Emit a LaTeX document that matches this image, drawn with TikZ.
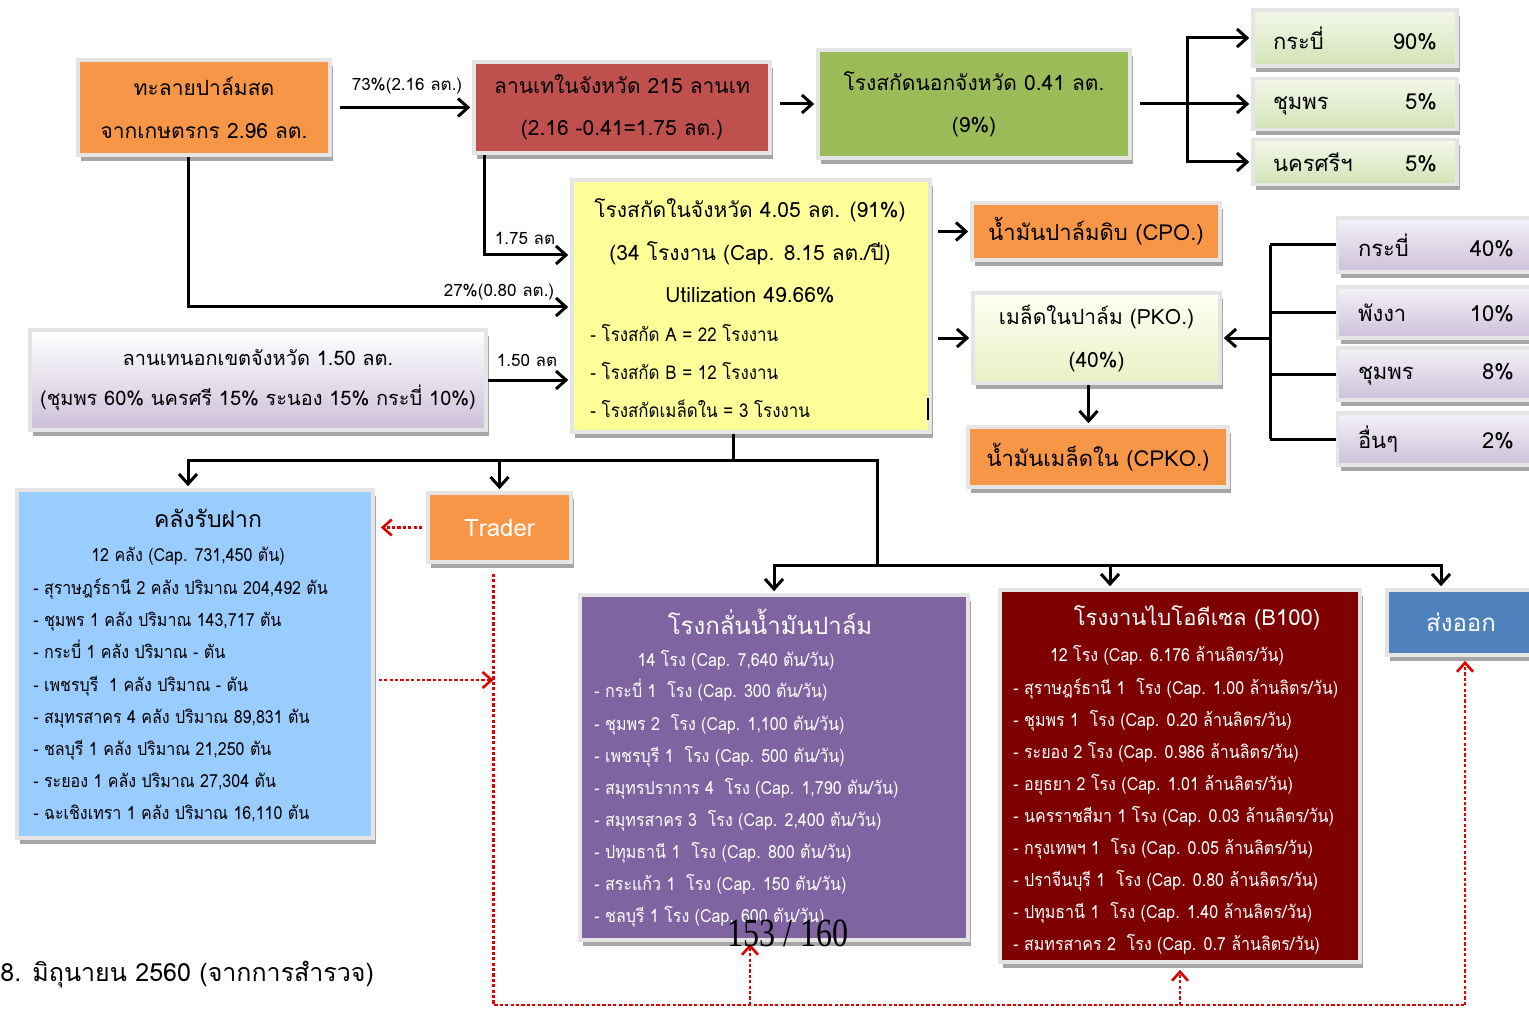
\documentclass[tikz,border=0pt]{standalone}
\usepackage{fontspec}
\usepackage{graphicx}
\newfontfamily\thai[Script=Thai]{Loma}
\newfontfamily\thaic[Script=Thai,FakeStretch=0.89]{Loma}
\newfontfamily\serifnum{Liberation Serif}
\newcommand\tfs[2]{\thai\fontsize{#1}{#2}\selectfont}
\newcommand\tcs[2]{\thaic\fontsize{#1}{#2}\selectfont}
\usetikzlibrary{arrows.meta,shadows}
\definecolor{cOrange}{HTML}{F79646}
\definecolor{cRed}{HTML}{C0504D}
\definecolor{cGreen}{HTML}{9BBB59}
\definecolor{cDtop}{HTML}{F4F8EA}
\definecolor{cDbot}{HTML}{D3E2B6}
\definecolor{cYellow}{HTML}{FFFF99}
\definecolor{cLav}{HTML}{CCC0DA}
\definecolor{cLavTop}{HTML}{F4F2F8}
\definecolor{cHtop}{HTML}{FFFFF4}
\definecolor{cHbot}{HTML}{E8F0C4}
\definecolor{cBlue}{HTML}{99CCFF}
\definecolor{cPurple}{HTML}{8064A2}
\definecolor{cDRed}{HTML}{7F0000}
\definecolor{cSteel}{HTML}{4F81BD}
\definecolor{cRedLine}{HTML}{E00000}
\begin{document}
\begin{tikzpicture}[x=0.5pt,y=-0.5pt,font=\thai,
  bx/.style={draw=black!10, line width=1.8pt, inner sep=0pt, align=center,
    drop shadow={shadow xshift=1.5pt, shadow yshift=-3pt, fill=black, opacity=0.35}},
  ln/.style={line width=1.5pt, black},
  arr/.style={ln, -{Straight Barb[length=5pt,width=9pt]}, shorten >=1pt},
  rln/.style={line width=1.3pt, cRedLine, dash pattern=on 1.6pt off 1.1pt},
  rarr/.style={rln, -{Straight Barb[length=4.5pt,width=8pt]}},
  lbl/.style={font=\tfs{8.5}{10}, inner sep=0pt},
  lst/.style={inner sep=0pt, anchor=west, align=left}
]
\useasboundingbox (0,0) rectangle (1529,1010);

% top row
\node[bx, fill=cOrange, minimum width=126pt, minimum height=47.5pt, font=\tfs{10.5}{21.5}] (A) at (204,107.5) {ทะลายปาล์มสด\\จากเกษตรกร 2.96 ลต.};
\node[bx, fill=cRed, minimum width=148pt, minimum height=45.5pt, font=\tfs{10.5}{21}] (B) at (622,107.5) {ลานเทในจังหวัด 215 ลานเท\\(2.16 -0.41=1.75 ลต.)};
\node[bx, fill=cGreen, minimum width=156pt, minimum height=54pt, font=\tfs{10.5}{21}] (C) at (974,104) {โรงสกัดนอกจังหวัด 0.41 ลต.\\(9\%)};
\node[bx, top color=cDtop, bottom color=cDbot, minimum width=102pt, minimum height=28pt, text width=82pt, align=left, font=\tfs{11}{13}] (D1) at (1355,38) {กระบี่\hfill 90\%};
\node[bx, top color=cDtop, bottom color=cDbot, minimum width=102pt, minimum height=25.5pt, text width=82pt, align=left, font=\tfs{11}{13}] (D2) at (1355,104) {ชุมพร\hfill 5\%};
\node[bx, top color=cDtop, bottom color=cDbot, minimum width=102pt, minimum height=22.5pt, text width=82pt, align=left, font=\tfs{11}{13}] (D3) at (1355,162) {นครศรีฯ\hfill 5\%};

% middle
\node[bx, fill=cYellow, minimum width=179pt, minimum height=126pt] (E) at (751,306) {};
\node[font=\tfs{10.5}{21.25}, align=center, inner sep=0pt] (Et) at (750,251) {โรงสกัดในจังหวัด 4.05 ลต. (91\%)\\(34 โรงงาน (Cap. 8.15 ลต./ปี)\\Utilization 49.66\%};
\node[lst, font=\tcs{9.5}{19}] (El) at (590,371) {- โรงสกัด A = 22 โรงงาน\\- โรงสกัด B = 12 โรงงาน\\- โรงสกัดเมล็ดใน = 3 โรงงาน};
\draw[line width=1pt] (928,398) -- (928,420);

\node[bx, top color=white, bottom color=cLav, minimum width=228pt, minimum height=50pt, font=\tfs{10}{20}] (F) at (258,380) {ลานเทนอกเขตจังหวัด 1.50 ลต.\\(ชุมพร 60\% นครศรี 15\% ระนอง 15\% กระบี่ 10\%)};

\node[bx, fill=cOrange, minimum width=124pt, minimum height=28.5pt, font=\tfs{11}{13}] (G) at (1096,231.5) {น้ำมันปาล์มดิบ (CPO.)};
\node[bx, top color=cHtop, bottom color=cHbot, minimum width=123.5pt, minimum height=45pt, font=\tfs{10.5}{21.5}] (H) at (1096.5,338) {เมล็ดในปาล์ม (PKO.)\\(40\%)};
\node[bx, fill=cOrange, minimum width=130pt, minimum height=30pt, font=\tfs{11}{13}] (I) at (1098,457) {น้ำมันเมล็ดใน (CPKO.)};

\node[bx, top color=cLavTop, bottom color=cLav, minimum width=98.5pt, minimum height=27pt, text width=78pt, align=left, font=\tfs{11}{13}] (J1) at (1436,245) {กระบี่\hfill 40\%};
\node[bx, top color=cLavTop, bottom color=cLav, minimum width=98.5pt, minimum height=25.5pt, text width=78pt, align=left, font=\tfs{11}{13}] (J2) at (1436,312.5) {พังงา\hfill 10\%};
\node[bx, top color=cLavTop, bottom color=cLav, minimum width=98.5pt, minimum height=26pt, text width=78pt, align=left, font=\tfs{11}{13}] (J3) at (1436,374) {ชุมพร\hfill 8\%};
\node[bx, top color=cLavTop, bottom color=cLav, minimum width=98.5pt, minimum height=26pt, text width=78pt, align=left, font=\tfs{11}{13}] (J4) at (1436,439) {อื่นๆ\hfill 2\%};

% bottom boxes
\node[bx, fill=cBlue, minimum width=178pt, minimum height=174pt] (K) at (195,664) {};
\node[font=\tfs{11.5}{13}, inner sep=0pt] (Kt) at (208,518) {คลังรับฝาก};
\node[font=\tcs{9}{11}, inner sep=0pt] (Ks) at (188,556) {12 คลัง (Cap. 731,450 ตัน)};
\node[lst, font=\tcs{9}{16.07}] (Kl) at (33,700.5) {- สุราษฎร์ธานี 2 คลัง ปริมาณ 204,492 ตัน\\- ชุมพร 1 คลัง ปริมาณ 143,717 ตัน\\- กระบี่ 1 คลัง ปริมาณ - ตัน\\- เพชรบุรี~ 1 คลัง ปริมาณ - ตัน\\- สมุทรสาคร 4 คลัง ปริมาณ 89,831 ตัน\\- ชลบุรี 1 คลัง ปริมาณ 21,250 ตัน\\- ระยอง 1 คลัง ปริมาณ 27,304 ตัน\\- ฉะเชิงเทรา 1 คลัง ปริมาณ 16,110 ตัน};

\node[bx, fill=cOrange, minimum width=71.5pt, minimum height=34.5pt, text=white, font=\tfs{12}{14}] (L) at (499.5,527.5) {Trader};

\node[bx, fill=cPurple, minimum width=194pt, minimum height=172.5pt] (M) at (774,767.5) {};
\node[font=\tfs{12}{14}, inner sep=0pt, text=white] (Mt) at (770,622) {โรงกลั่นน้ำมันปาล์ม};
\node[font=\tcs{9}{11}, inner sep=0pt, text=white] (Ms) at (736,660) {14 โรง (Cap. 7,640 ตัน/วัน)};
\node[lst, font=\tcs{9}{16.07}, text=white] (Ml) at (594,803.5) {- กระบี่ 1~ โรง (Cap. 300 ตัน/วัน)\\- ชุมพร 2~ โรง (Cap. 1,100 ตัน/วัน)\\- เพชรบุรี 1~ โรง (Cap. 500 ตัน/วัน)\\- สมุทรปราการ 4~ โรง (Cap. 1,790 ตัน/วัน)\\- สมุทรสาคร 3~ โรง (Cap. 2,400 ตัน/วัน)\\- ปทุมธานี 1~ โรง (Cap. 800 ตัน/วัน)\\- สระแก้ว 1~ โรง (Cap. 150 ตัน/วัน)\\- ชลบุรี 1 โรง (Cap. 600 ตัน/วัน)};

\node[bx, fill=cDRed, minimum width=180pt, minimum height=186pt] (N) at (1180,776) {};
\node[font=\tfs{11}{13}, inner sep=0pt, text=white] (Nt) at (1197,618) {โรงงานไบโอดีเซล (B100)};
\node[font=\tcs{9}{11}, inner sep=0pt, text=white] (Ns) at (1167,655) {12 โรง (Cap. 6.176 ล้านลิตร/วัน)};
\node[lst, font=\tcs{9}{16}, text=white] (Nl) at (1013,816) {- สุราษฎร์ธานี 1~ โรง (Cap. 1.00 ล้านลิตร/วัน)\\- ชุมพร 1~ โรง (Cap. 0.20 ล้านลิตร/วัน)\\- ระยอง 2 โรง (Cap. 0.986 ล้านลิตร/วัน)\\- อยุธยา 2 โรง (Cap. 1.01 ล้านลิตร/วัน)\\- นครราชสีมา 1 โรง (Cap. 0.03 ล้านลิตร/วัน)\\- กรุงเทพฯ 1~ โรง (Cap. 0.05 ล้านลิตร/วัน)\\- ปราจีนบุรี 1~ โรง (Cap. 0.80 ล้านลิตร/วัน)\\- ปทุมธานี 1~ โรง (Cap. 1.40 ล้านลิตร/วัน)\\- สมทรสาคร 2~ โรง (Cap. 0.7 ล้านลิตร/วัน)};

\node[bx, fill=cSteel, minimum width=74pt, minimum height=32.5pt, text=white, font=\tfs{12}{14}] (O) at (1461,622.5) {ส่งออก};

% black connectors
\draw[arr, shorten <=4pt] (A.east) -- (B.west);
\node[lbl] (l1) at (407,86) {73\%(2.16 ลต.)};
\draw[arr, shorten <=4pt] (B.east |- C.west) -- (C.west);
\coordinate (cs) at (1187,104);
\draw[ln, shorten <=4pt] (C.east |- cs) -- (cs);
\draw[arr] (cs) |- (D1.west);
\draw[arr] (cs) -- (D2.west);
\draw[arr] (cs) |- (D3.west);

\draw[arr] ([xshift=6pt]B.south west) |- ([yshift=25.5pt]E.west);
\node[lbl] (l2) at (525,238) {1.75 ลต};
\draw[arr] ([xshift=-8pt]A.south) |- ([yshift=-0.5pt]E.west);
\node[lbl] (l3) at (499,292) {27\%(0.80 ลต.)};
\draw[arr] (F.east) -- (F.east -| E.west);
\node[lbl] (l4) at (527,360) {1.50 ลต};

\draw[arr, shorten <=3pt] (E.east |- G.west) -- (G.west);
\draw[arr, shorten <=3pt] (E.east |- H.west) -- (H.west);
\coordinate (hs) at ([xshift=-4pt]H.south);
\draw[arr] (hs) -- (hs |- I.north);

\coordinate (jt) at (1270,338);
\draw[ln] (J1.west -| jt) -- (J4.west -| jt);
\foreach \j in {J1,J2,J3,J4} \draw[ln] (\j.west) -- (\j.west -| jt);
\draw[arr] (jt) -- (H.east);

\coordinate (es) at ([xshift=-9pt]E.south);
\coordinate (h1) at (733,460);
\draw[ln] (es) -- (h1);
\draw[arr] (h1) -| ([xshift=-3.5pt]K.north);
\draw[arr] (h1) -| (L.north);
\coordinate (h2) at (877,565);
\draw[ln] (h1) -| (h2);
\draw[arr] (h2) -| (M.north);
\draw[arr] (h2) -| ([xshift=-35pt]N.north);
\draw[arr] (h2) -| ([xshift=-10pt]O.north);

% red dotted connectors
\draw[rarr, shorten <=2pt, shorten >=3pt] (L.west) -- (L.west -| K.east);
\coordinate (ls) at ([xshift=-3pt]L.south);
\coordinate (rb) at (1465,1005);
\draw[rln, shorten <=5pt] (ls) |- (rb);
\draw[rarr, shorten >=2pt] (rb) -- (rb |- O.south);
\coordinate (ms) at ([xshift=-12pt]M.south);
\draw[rarr, shorten >=1pt] (ms |- rb) -- (ms);
\draw[rarr, shorten >=3pt] (N.south |- rb) -- (N.south);
\coordinate (kr) at ([yshift=-8pt]K.east);
\draw[rarr, shorten <=2pt] (kr) -- (kr -| ls);

% page texts
\node[font=\serifnum\fontsize{20}{20}\selectfont, inner sep=0pt] (pg) at (788,933) {\scalebox{0.8}[1]{153 / 160}};
\node[font=\tfs{12.5}{14}, anchor=west, inner sep=0pt] (note) at (0,975) {8. มิถุนายน 2560 (จากการสำรวจ)};
\end{tikzpicture}
\end{document}
